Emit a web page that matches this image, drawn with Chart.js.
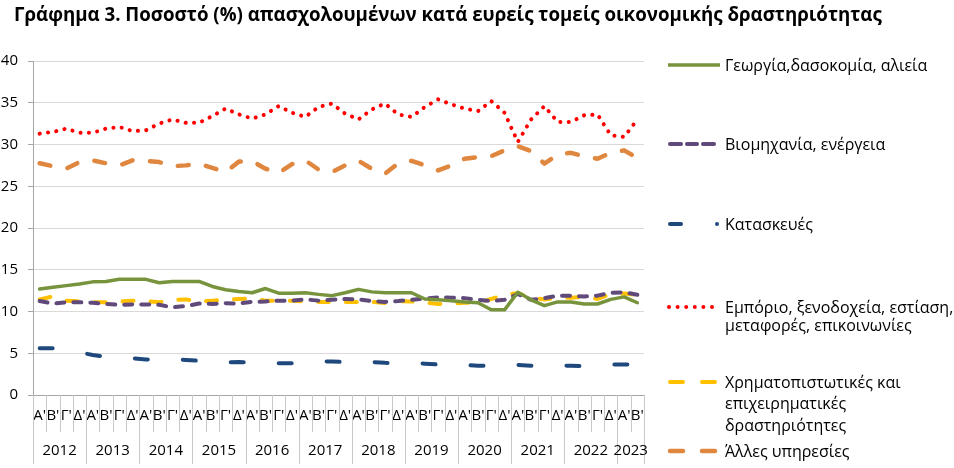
<!DOCTYPE html>
<html lang="el">
<head>
<meta charset="utf-8">
<title>Γράφημα 3</title>
<script src="https://cdn.jsdelivr.net/npm/chart.js@4.4.1/dist/chart.umd.min.js"></script>
<style>
  html, body { margin: 0; padding: 0; background: #fff; }
  #wrap { position: relative; width: 954px; height: 468px; overflow: hidden; font-family: "Open Sans", sans-serif; color: #000; }
  #title { position: absolute; left: 14px; top: 0px; font-size: 18.7px; font-weight: bold; white-space: nowrap; line-height: 28px; }
  #chart { position: absolute; left: 0; top: 0; }
  .legline { position: absolute; left: 725px; font-size: 16px; line-height: 20px; white-space: nowrap; transform: translateY(-50%); }
  #legmarks { position: absolute; left: 0; top: 0; }
</style>
</head>
<body>
<div id="wrap">
  <canvas id="chart" width="954" height="468"></canvas>
  <div id="title">Γράφημα 3. Ποσοστό (%) απασχολουμένων κατά ευρείς τομείς οικονομικής δραστηριότητας</div>
  <svg id="legmarks" width="954" height="468"></svg>
</div>
<script>
// categories
const years = ['2012', '2013', '2014', '2015', '2016', '2017', '2018', '2019', '2020', '2021', '2022', '2023'];
const quartersPerYear = [4, 4, 4, 4, 4, 4, 4, 4, 4, 4, 4, 2];
const quarterNames = ["Α'", "Β'", "Γ'", "Δ'"];

// series (% of employed)
const agriculture = [12.7, 12.9, 13.1, 13.3, 13.55, 13.6, 13.85, 13.85, 13.85, 13.45, 13.6, 13.6, 13.6, 13.0, 12.6, 12.4, 12.25, 12.75, 12.2, 12.2, 12.25, 12.05, 11.9, 12.25, 12.65, 12.35, 12.25, 12.25, 12.25, 11.5, 11.4, 11.3, 11.15, 11.05, 10.2, 10.2, 12.3, 11.4, 10.7, 11.15, 11.15, 10.9, 10.9, 11.45, 11.75, 11.05];
const industry = [11.25, 10.95, 11.1, 11.1, 11.05, 10.9, 10.8, 10.85, 10.85, 10.8, 10.5, 10.65, 10.95, 10.9, 11.0, 10.95, 11.15, 11.2, 11.3, 11.3, 11.45, 11.3, 11.4, 11.5, 11.45, 11.25, 11.15, 11.25, 11.4, 11.55, 11.7, 11.65, 11.6, 11.4, 11.25, 11.4, 12.1, 11.4, 11.6, 11.9, 11.9, 11.8, 11.9, 12.25, 12.3, 12.0];
const construction = [5.6, 5.6, 5.4, 5.1, 4.8, 4.55, 4.45, 4.4, 4.25, 4.25, 4.25, 4.2, 4.1, 4.0, 3.9, 3.95, 3.9, 3.8, 3.8, 3.8, 3.9, 4.05, 4.0, 3.95, 3.95, 3.95, 3.85, 3.8, 3.8, 3.75, 3.65, 3.65, 3.6, 3.5, 3.5, 3.5, 3.6, 3.5, 3.5, 3.55, 3.5, 3.45, 3.5, 3.65, 3.65, 3.65];
const trade = [31.3, 31.5, 31.9, 31.4, 31.4, 31.9, 32.1, 31.6, 31.7, 32.5, 33.0, 32.6, 32.6, 33.4, 34.3, 33.6, 33.1, 33.6, 34.6, 33.8, 33.3, 34.5, 34.9, 33.7, 33.0, 34.2, 34.9, 33.6, 33.3, 34.5, 35.4, 34.8, 34.3, 34.0, 35.2, 33.8, 30.3, 33.0, 34.6, 32.7, 32.7, 33.5, 33.6, 31.1, 30.9, 33.0];
const finance = [11.45, 11.8, 11.3, 11.2, 11.1, 11.1, 11.2, 11.3, 11.25, 11.1, 11.4, 11.45, 11.2, 11.3, 11.4, 11.5, 11.55, 11.3, 11.3, 11.3, 11.2, 11.15, 11.15, 11.15, 11.15, 11.15, 11.0, 11.25, 11.2, 11.1, 10.9, 10.95, 11.05, 11.05, 11.5, 12.0, 12.2, 11.65, 11.45, 11.6, 11.65, 11.75, 11.5, 12.05, 12.15, 12.0];
const otherServices = [27.75, 27.4, 27.1, 27.9, 28.1, 27.75, 27.5, 28.1, 28.05, 27.9, 27.4, 27.5, 27.7, 27.2, 26.7, 27.95, 28.0, 27.1, 26.6, 27.65, 28.1, 27.0, 26.7, 27.5, 28.05, 27.1, 26.5, 27.75, 28.05, 27.5, 26.9, 27.5, 28.3, 28.5, 28.6, 29.3, 29.8, 29.2, 27.7, 28.8, 29.0, 28.6, 28.3, 29.0, 29.3, 28.4];

// y axis ticks
const yMin = 0, yMax = 40, yStep = 5;

// build quarter labels
const labels = [];
const yearStarts = new Set();
years.forEach((y, j) => {
    yearStarts.add(labels.length);
    for (let q = 0; q < quartersPerYear[j]; q++) labels.push(quarterNames[q]);
});

const series = [
    { name: ['Γεωργία,δασοκομία, αλιεία'], data: agriculture, color: '#77933c', width: 3.5, dash: [], legY: [65], mark: 'solid' },
    { name: ['Βιομηχανία, ενέργεια'], data: industry, color: '#604a7b', width: 4, dash: [8, 9], legY: [144], mark: 'dash3' },
    { name: ['Κατασκευές'], data: construction, color: '#1f497d', width: 4, dash: [13, 35], legY: [224], mark: 'dashdot' },
    { name: ['Εμπόριο, ξενοδοχεία, εστίαση,', 'μεταφορές, επικοινωνίες'], data: trade, color: '#ff0000', width: 4, dash: [0.1, 8.3], legY: [307, 325], mark: 'dots' },
    { name: ['Χρηματοπιστωτικές και', 'επιχειρηματικές', 'δραστηριότητες'], data: finance, color: '#ffc000', width: 4, dash: [11, 17], legY: [382, 403, 425], mark: 'dash2' },
    { name: ['Άλλες υπηρεσίες'], data: otherServices, color: '#e0873f', width: 4.5, dash: [11, 17.5], legY: [451], mark: 'dash2' }
];

// separators between quarters / years and the year labels under the axis
const axisExtras = {
    id: 'axisExtras',
    afterDraw(chart) {
        const { ctx, chartArea, scales: { x } } = chart;
        const step = (x.right - x.left) / labels.length;
        ctx.save();
        ctx.strokeStyle = '#c9c9c9';
        ctx.lineWidth = 1;
        for (let i = 0; i <= labels.length; i++) {
            const px = Math.round(x.left + i * step) + 0.5;
            const tall = yearStarts.has(i) || i === labels.length;
            ctx.beginPath();
            ctx.moveTo(px, chartArea.bottom);
            ctx.lineTo(px, tall ? 464 : 432);
            ctx.stroke();
        }
        ctx.fillStyle = '#000';
        ctx.font = '15px "Open Sans"';
        ctx.textAlign = 'center';
        ctx.textBaseline = 'middle';
        let idx = 0;
        years.forEach((y, j) => {
            const n = quartersPerYear[j];
            ctx.fillText(y, x.left + (idx + n / 2) * step, 451);
            idx += n;
        });
        ctx.restore();
    }
};

const ctx = document.getElementById('chart').getContext('2d');
new Chart(ctx, {
    type: 'line',
    data: {
        labels: labels,
        datasets: series.map(s => ({
            label: s.name.join(' '),
            data: s.data,
            borderColor: s.color,
            backgroundColor: s.color,
            borderWidth: s.width,
            borderDash: s.dash,
            borderCapStyle: 'round',
            borderJoinStyle: 'round',
            pointRadius: 0,
            tension: 0,
            fill: false
        }))
    },
    options: {
        responsive: false,
        animation: false,
        layout: { padding: { left: 0, top: 61, right: 310, bottom: 0 } },
        plugins: { legend: { display: false }, tooltip: { enabled: false }, title: { display: false } },
        scales: {
            x: {
                type: 'category',
                offset: true,
                grid: { display: false, drawTicks: false },
                border: { display: true, color: '#a6a6a6', width: 1 },
                ticks: {
                    autoSkip: false, maxRotation: 0, minRotation: 0, padding: 12,
                    color: '#000', font: { family: 'Open Sans', size: 15 }
                },
                afterFit(scale) { scale.height = 73; }
            },
            y: {
                min: yMin, max: yMax,
                ticks: { stepSize: yStep, padding: 10, color: '#000', font: { family: 'Open Sans', size: 15 } },
                grid: { color: '#d9d9d9', tickColor: '#a6a6a6', tickLength: 5 },
                border: { display: true, color: '#a6a6a6', width: 1 },
                afterFit(scale) { scale.width = 33; }
            }
        }
    },
    plugins: [axisExtras]
});

// legend on the right
const svg = document.getElementById('legmarks');
const NS = 'http://www.w3.org/2000/svg';
function seg(x1, x2, y, s) {
    const l = document.createElementNS(NS, 'line');
    l.setAttribute('x1', x1); l.setAttribute('x2', x2);
    l.setAttribute('y1', y); l.setAttribute('y2', y);
    l.setAttribute('stroke', s.color);
    l.setAttribute('stroke-width', s.width);
    l.setAttribute('stroke-linecap', s.mark === 'solid' ? 'butt' : 'round');
    svg.appendChild(l);
}
function dot(x, y, s) {
    const c = document.createElementNS(NS, 'circle');
    c.setAttribute('cx', x); c.setAttribute('cy', y); c.setAttribute('r', 2);
    c.setAttribute('fill', s.color);
    svg.appendChild(c);
}
const wrap = document.getElementById('wrap');
series.forEach(s => {
    const y = s.legY[0];
    if (s.mark === 'solid') seg(668, 720, y, s);
    if (s.mark === 'dash3') { seg(670, 681, y, s); seg(687, 697, y, s); seg(703, 714, y, s); }
    if (s.mark === 'dashdot') { seg(670, 681, y, s); dot(717, y, s); }
    if (s.mark === 'dots') { for (let k = 0; k < 6; k++) dot(669 + k * 8.6, y, s); }
    if (s.mark === 'dash2') { seg(670, 683, y, s); seg(702, 715, y, s); }
    s.name.forEach((line, i) => {
        const d = document.createElement('div');
        d.className = 'legline';
        d.style.top = s.legY[i] + 'px';
        d.textContent = line;
        wrap.appendChild(d);
    });
});
</script>
</body>
</html>
